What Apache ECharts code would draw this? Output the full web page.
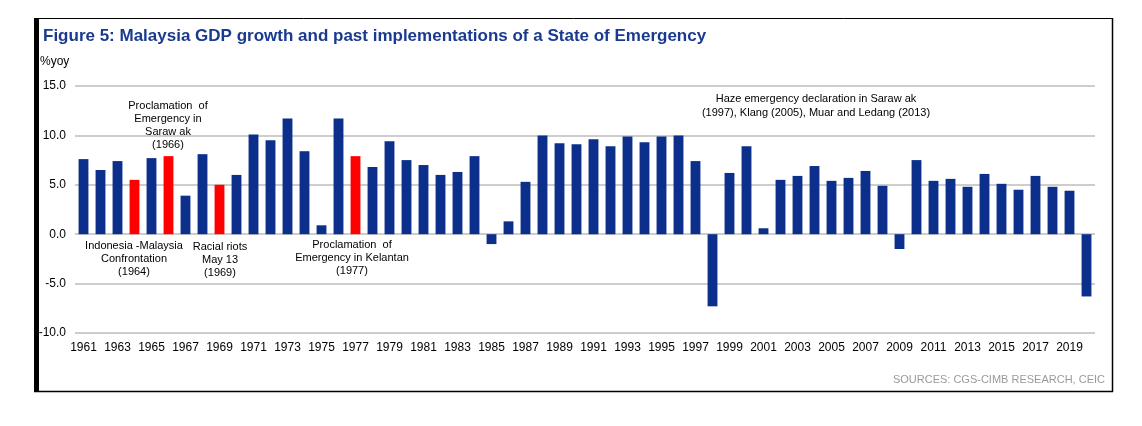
<!DOCTYPE html>
<html>
<head>
<meta charset="utf-8">
<script src="https://cdn.jsdelivr.net/npm/echarts@6/dist/echarts.min.js"></script>
<style>
html,body{margin:0;padding:0;background:#fff;}
#chart{width:1142px;height:426px;}
</style>
</head>
<body>
<div id="chart"></div>
<script>
const years = [];
for (let y = 1961; y <= 2020; y++) years.push(String(y));
const gdpGrowth = [
  7.6, 6.5, 7.4, 5.5, 7.7, 7.9, 3.9, 8.1, 5.0, 6.0,
  10.1, 9.5, 11.7, 8.4, 0.9, 11.7, 7.9, 6.8, 9.4, 7.5,
  7.0, 6.0, 6.3, 7.9, -1.0, 1.3, 5.3, 10.0, 9.2, 9.1,
  9.6, 8.9, 9.9, 9.3, 9.9, 10.0, 7.4, -7.3, 6.2, 8.9,
  0.6, 5.5, 5.9, 6.9, 5.4, 5.7, 6.4, 4.9, -1.5, 7.5,
  5.4, 5.6, 4.8, 6.1, 5.1, 4.5, 5.9, 4.8, 4.4, -6.3
];
const emergencyYears = ['1964', '1966', '1969', '1977'];
const yTicks = [-10, -5, 0, 5, 10, 15];

const chart = echarts.init(document.getElementById('chart'));
const labelFont = {fontFamily: 'Liberation Sans, Arial, sans-serif', fontSize: 11, fill: '#000', align: 'center', lineHeight: 13};

chart.setOption({
  animation: false,
  grid: {left: 75, right: 47, top: 86, bottom: 93},
  xAxis: {
    type: 'category',
    data: years,
    axisLine: {show: false},
    axisTick: {show: false},
    axisLabel: {interval: 1, margin: 9, color: '#000', fontSize: 12, fontFamily: 'Liberation Sans, Arial, sans-serif'}
  },
  yAxis: {
    type: 'value',
    min: yTicks[0], max: yTicks[yTicks.length - 1], interval: 5,
    axisLine: {show: false},
    axisTick: {show: false},
    axisLabel: {margin: 9, color: '#000', fontSize: 12, fontFamily: 'Liberation Sans, Arial, sans-serif',
      formatter: v => v.toFixed(1)},
    splitLine: {lineStyle: {color: '#bdbdbd', width: 1.5}}
  },
  series: [{
    type: 'bar',
    data: gdpGrowth,
    barWidth: '58%',
    itemStyle: {
      color: p => emergencyYears.includes(p.name) ? '#ff0000' : '#0b2f8a'
    }
  }],
  graphic: [
    {type: 'rect', shape: {x: 34, y: 18, width: 5, height: 374}, style: {fill: '#000'}},
    {type: 'line', shape: {x1: 34, y1: 18.5, x2: 1113, y2: 18.5}, style: {stroke: '#000', lineWidth: 1}},
    {type: 'line', shape: {x1: 1112.5, y1: 18, x2: 1112.5, y2: 392}, style: {stroke: '#000', lineWidth: 1.5}},
    {type: 'line', shape: {x1: 34, y1: 391.5, x2: 1113, y2: 391.5}, style: {stroke: '#000', lineWidth: 1.5}},
    {type: 'text', left: 43, top: 28, style: {text: 'Figure 5: Malaysia GDP growth and past implementations of a State of Emergency',
      fill: '#1a3a8f', font: 'bold 17px Liberation Sans, Arial, sans-serif'}},
    {type: 'text', left: 40, top: 56, style: {text: '%yoy', fill: '#000', font: '12px Liberation Sans, Arial, sans-serif'}},
    {type: 'text', x: 168, y: 99, style: Object.assign({text: 'Proclamation  of\nEmergency in\nSaraw ak\n(1966)'}, labelFont)},
    {type: 'text', x: 134, y: 239, style: Object.assign({text: 'Indonesia -Malaysia\nConfrontation\n(1964)'}, labelFont)},
    {type: 'text', x: 220, y: 240, style: Object.assign({text: 'Racial riots\nMay 13\n(1969)'}, labelFont)},
    {type: 'text', x: 352, y: 238, style: Object.assign({text: 'Proclamation  of\nEmergency in Kelantan\n(1977)'}, labelFont)},
    {type: 'text', x: 816, y: 92, style: Object.assign({text: 'Haze emergency declaration in Saraw ak\n(1997), Klang (2005), Muar and Ledang (2013)'}, labelFont, {lineHeight: 14})},
    {type: 'text', right: 37, top: 374, style: {text: 'SOURCES: CGS-CIMB RESEARCH, CEIC', fill: '#9a9a9a', font: '11px Liberation Sans, Arial, sans-serif'}}
  ]
});
</script>
</body>
</html>
